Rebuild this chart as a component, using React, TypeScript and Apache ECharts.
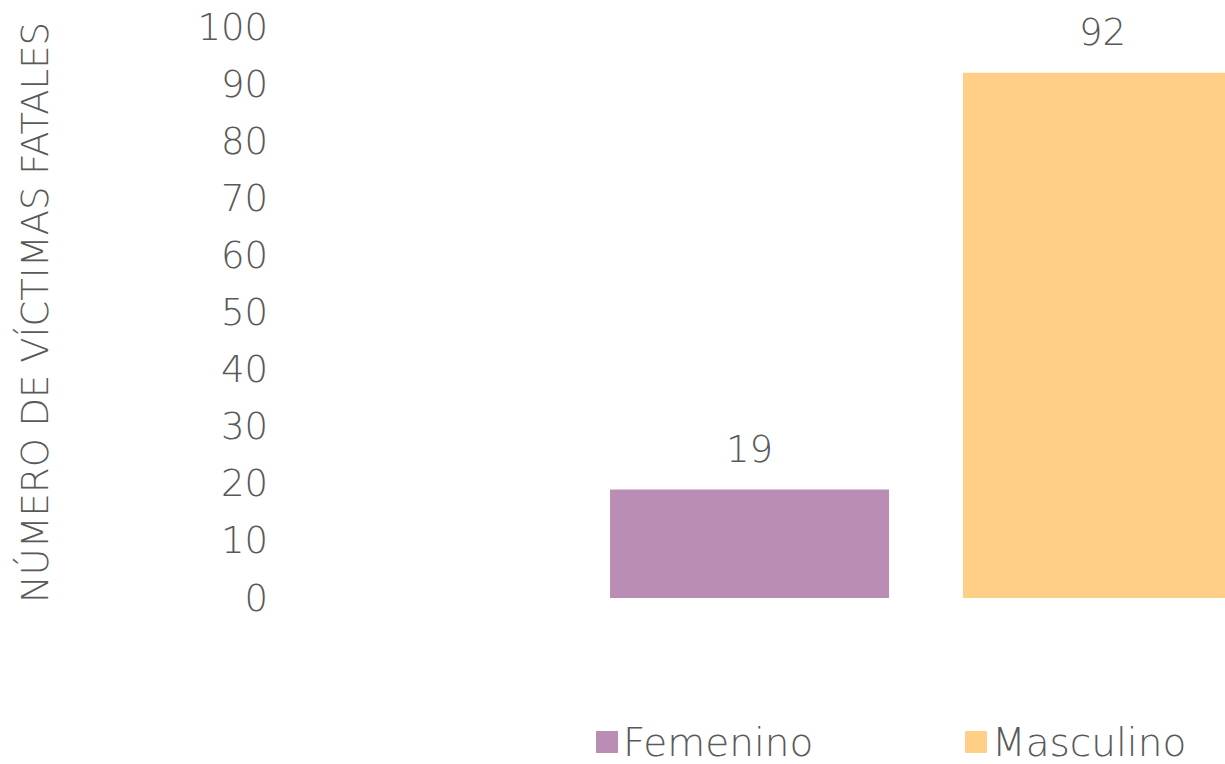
import React, { useEffect, useRef } from "react";
import * as echarts from "echarts";

const categories = ["Total"];
const seriesNames = ["Femenino", "Masculino"];
const femeninoValues = [19];
const masculinoValues = [92];
const yTicks = { min: 0, max: 100, interval: 10 };
const yAxisName = "NÚMERO DE VÍCTIMAS FATALES";

const FONT = "'DejaVu Sans', 'Open Sans', sans-serif";
const TEXT = "#595959";
const COLORS = ["#BA8EB4", "#FFCE87"];

export default function App() {
  const ref = useRef<HTMLDivElement>(null);
  useEffect(() => {
    if (!ref.current) return;
    const chart = echarts.init(ref.current, undefined, { renderer: "svg" });
    const labelCfg = {
      show: true,
      position: "top",
      distance: 22,
      color: TEXT,
      fontFamily: FONT,
      fontWeight: 200,
      fontSize: 37,
    };
    const legendText = { color: TEXT, fontFamily: FONT, fontWeight: 200, fontSize: 39, lineHeight: 40 };
    chart.setOption({
      animation: false,
      backgroundColor: "#ffffff",
      grid: { left: 290, top: 27, bottom: 166, width: 1272, outerBoundsMode: "none", containLabel: false },
      legend: [
        {
          data: [seriesNames[0]],
          left: 596,
          top: 722,
          padding: 0,
          icon: "rect",
          itemWidth: 22,
          itemHeight: 22,
          itemGap: 10,
          textStyle: legendText,
        },
        {
          data: [seriesNames[1]],
          left: 965,
          top: 722,
          padding: 0,
          icon: "rect",
          itemWidth: 22,
          itemHeight: 22,
          itemGap: 10,
          textStyle: legendText,
        },
      ],
      xAxis: {
        type: "category",
        data: categories,
        axisLine: { show: false },
        axisTick: { show: false },
        axisLabel: { show: false },
      },
      yAxis: {
        type: "value",
        min: yTicks.min,
        max: yTicks.max,
        interval: yTicks.interval,
        name: yAxisName,
        nameLocation: "middle",
        nameGap: 236,
        nameRotate: 90,
        nameTextStyle: { color: TEXT, fontFamily: FONT, fontWeight: 200, fontSize: 37 },
        axisLine: { show: false },
        axisTick: { show: false },
        splitLine: { show: false },
        axisLabel: { color: TEXT, fontFamily: FONT, fontWeight: 200, fontSize: 37, margin: 22 },
      },
      series: [
        {
          name: seriesNames[0],
          type: "bar",
          data: femeninoValues,
          barWidth: 279,
          barGap: "26.5%",
          itemStyle: { color: COLORS[0] },
          label: labelCfg,
        },
        {
          name: seriesNames[1],
          type: "bar",
          data: masculinoValues,
          barWidth: 279,
          barGap: "26.5%",
          itemStyle: { color: COLORS[1] },
          label: labelCfg,
        },
      ],
    });
    return () => chart.dispose();
  }, []);
  return (
    <div
      ref={ref}
      style={{ position: "fixed", left: 0, top: 0, width: 1225, height: 764, overflow: "hidden" }}
    />
  );
}
